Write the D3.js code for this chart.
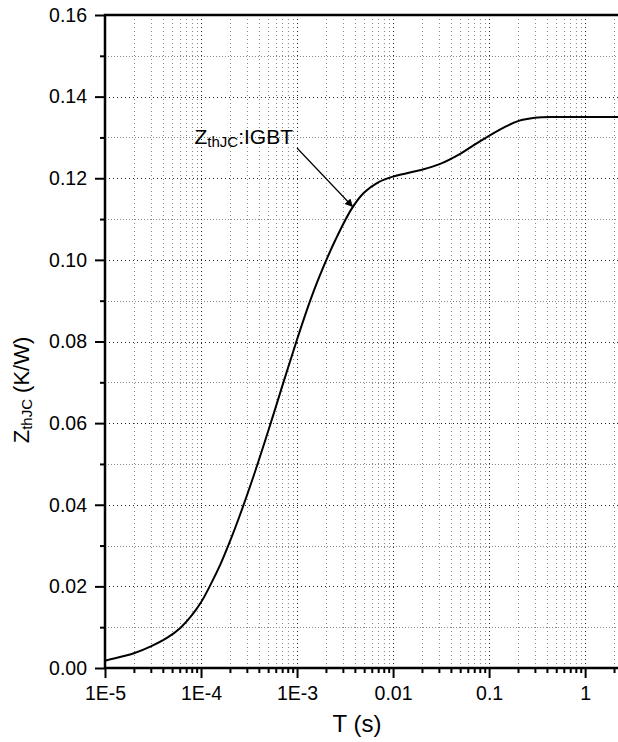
<!DOCTYPE html>
<html>
<head>
<meta charset="utf-8">
<script src="https://cdn.jsdelivr.net/npm/d3@7"></script>
<style>
	body { margin: 0; background: #fff; }
	svg { display: block; font-family: "Liberation Sans", Arial, sans-serif; }
</style>
</head>
<body>
<div id="chart"></div>
<script>
/*
 * thermal impedance chart
 */

var WIDTH = 618;
var HEIGHT = 742;
var PLOT_LEFT = 105;
var PLOT_RIGHT = 618;
var PLOT_TOP = 15;
var PLOT_BOTTOM = 668;

// data
var timeValues = [1e-5, 1.5e-5, 2e-5, 3e-5, 4.5e-5, 6e-5, 8e-5, 1e-4, 1.25e-4, 1.6e-4, 2e-4, 2.5e-4, 3.5e-4, 5e-4, 7e-4, 1e-3, 1.35e-3, 1.7e-3, 2.5e-3, 3.7e-3, 5e-3, 7e-3, 1e-2, 1.5e-2, 2e-2, 3e-2, 5e-2, 7e-2, 0.1, 0.15, 0.2, 0.3, 0.5, 1, 2.2];
var zthValues = [0.0018, 0.0028, 0.0036, 0.0053, 0.0075, 0.0097, 0.0129, 0.0161, 0.0203, 0.0255, 0.0310, 0.0370, 0.0468, 0.0580, 0.0690, 0.0805, 0.0896, 0.0958, 0.1048, 0.1125, 0.1165, 0.1190, 0.1204, 0.1214, 0.1221, 0.1234, 0.1260, 0.1282, 0.1304, 0.1327, 0.1340, 0.1348, 0.1350, 0.1350, 0.1350];

var xMajorTicks = [1e-5, 1e-4, 1e-3, 1e-2, 1e-1, 1];
var xTickLabels = ["1E-5", "1E-4", "1E-3", "0.01", "0.1", "1"];
var yMajorTicks = [0, 0.02, 0.04, 0.06, 0.08, 0.10, 0.12, 0.14, 0.16];
var yTickLabels = ["0.00", "0.02", "0.04", "0.06", "0.08", "0.10", "0.12", "0.14", "0.16"];
var yMinorTicks = [0.01, 0.03, 0.05, 0.07, 0.09, 0.11, 0.13, 0.15];

var xScale = d3.scaleLog()
	.domain([1e-5, 2.2])
	.range([PLOT_LEFT, PLOT_RIGHT]);

var yScale = d3.scaleLinear()
	.domain([0, 0.16])
	.range([PLOT_BOTTOM, PLOT_TOP]);

// minor x ticks: 2..9 in each decade
var xMinorTicks = [];
for (var i = 0; i < xMajorTicks.length; i++) {
	for (var k = 2; k <= 9; k++) {
		var t = xMajorTicks[i] * k;
		if (t <= 2.2) {
			xMinorTicks.push(t);
		}
	}
}

var svg = d3.select("#chart").append("svg")
	.attr("width", WIDTH)
	.attr("height", HEIGHT);

svg.append("defs").append("clipPath")
	.attr("id", "plotClip")
	.append("rect")
	.attr("x", PLOT_LEFT)
	.attr("y", PLOT_TOP)
	.attr("width", PLOT_RIGHT - PLOT_LEFT)
	.attr("height", PLOT_BOTTOM - PLOT_TOP);

var grid = svg.append("g").attr("class", "grid");

// minor grid
grid.selectAll("line.xminor")
	.data(xMinorTicks)
	.enter()
	.append("line")
	.attr("x1", function(d) { return Math.round(xScale(d)) + 0.5; })
	.attr("x2", function(d) { return Math.round(xScale(d)) + 0.5; })
	.attr("y1", PLOT_TOP)
	.attr("y2", PLOT_BOTTOM)
	.style("stroke", "#888")
	.style("stroke-width", 1)
	.style("stroke-dasharray", "1,3");

grid.selectAll("line.yminor")
	.data(yMinorTicks)
	.enter()
	.append("line")
	.attr("x1", PLOT_LEFT)
	.attr("x2", PLOT_RIGHT)
	.attr("y1", function(d) { return Math.round(yScale(d)) + 0.5; })
	.attr("y2", function(d) { return Math.round(yScale(d)) + 0.5; })
	.style("stroke", "#888")
	.style("stroke-width", 1)
	.style("stroke-dasharray", "1,2");

// major grid
grid.selectAll("line.xmajor")
	.data(xMajorTicks)
	.enter()
	.append("line")
	.attr("x1", function(d) { return Math.round(xScale(d)) + 0.5; })
	.attr("x2", function(d) { return Math.round(xScale(d)) + 0.5; })
	.attr("y1", PLOT_TOP)
	.attr("y2", PLOT_BOTTOM)
	.style("stroke", "#222")
	.style("stroke-width", 1)
	.style("stroke-dasharray", "1,3");

grid.selectAll("line.ymajor")
	.data(yMajorTicks)
	.enter()
	.append("line")
	.attr("x1", PLOT_LEFT)
	.attr("x2", PLOT_RIGHT)
	.attr("y1", function(d) { return Math.round(yScale(d)) + 0.5; })
	.attr("y2", function(d) { return Math.round(yScale(d)) + 0.5; })
	.style("stroke", "#222")
	.style("stroke-width", 1)
	.style("stroke-dasharray", "1,3");

// curve
var curveData = timeValues.map(function(t, i) { return { t: t, z: zthValues[i] }; });

var line = d3.line()
	.x(function(d) { return xScale(d.t); })
	.y(function(d) { return yScale(d.z); })
	.curve(d3.curveCatmullRom.alpha(0.5));

svg.append("path")
	.datum(curveData)
	.attr("clip-path", "url(#plotClip)")
	.attr("d", line)
	.style("fill", "none")
	.style("stroke", "#000")
	.style("stroke-width", 2);

// axes
var xAxisMajor = d3.axisBottom(xScale)
	.tickValues(xMajorTicks)
	.tickSize(10)
	.tickPadding(8)
	.tickFormat(function(d, i) { return xTickLabels[i]; });

var xAxisMinor = d3.axisBottom(xScale)
	.tickValues(xMinorTicks)
	.tickSize(5)
	.tickFormat("");

var yAxisMajor = d3.axisLeft(yScale)
	.tickValues(yMajorTicks)
	.tickSize(10)
	.tickPadding(8)
	.tickFormat(function(d, i) { return yTickLabels[i]; });

var yAxisMinor = d3.axisLeft(yScale)
	.tickValues(yMinorTicks)
	.tickSize(5)
	.tickFormat("");

function styleAxis(g) {
	g.select(".domain").remove();
	g.selectAll(".tick line").style("stroke", "#000").style("stroke-width", 2);
	g.selectAll(".tick text").style("font-size", "19.5px").style("fill", "#000").style("font-family", "'Liberation Sans', Arial, sans-serif");
}

svg.append("g").attr("transform", "translate(0," + PLOT_BOTTOM + ")").call(xAxisMinor).call(styleAxis);
svg.append("g").attr("transform", "translate(0," + PLOT_BOTTOM + ")").call(xAxisMajor).call(styleAxis);
svg.append("g").attr("transform", "translate(" + PLOT_LEFT + ",0)").call(yAxisMinor).call(styleAxis);
svg.append("g").attr("transform", "translate(" + PLOT_LEFT + ",0)").call(yAxisMajor).call(styleAxis);

// frame: left, bottom, top
svg.append("path")
	.attr("d", "M" + PLOT_RIGHT + "," + PLOT_TOP + "H" + PLOT_LEFT + "V" + PLOT_BOTTOM + "H" + PLOT_RIGHT)
	.style("fill", "none")
	.style("stroke", "#000")
	.style("stroke-width", 2.5);

// axis titles
svg.append("text")
	.attr("x", 357)
	.attr("y", 732)
	.attr("text-anchor", "middle")
	.style("font-size", "24px")
	.text("T (s)");

var yTitle = svg.append("text")
	.attr("transform", "translate(29,390) rotate(-90)")
	.attr("text-anchor", "middle")
	.style("font-size", "22px");
yTitle.append("tspan").text("Z");
yTitle.append("tspan").attr("dy", 3).style("font-size", "15px").text("thJC");
yTitle.append("tspan").attr("dy", -3).text(" (K/W)");

// annotation
var note = svg.append("text")
	.attr("x", 293)
	.attr("y", 144)
	.attr("text-anchor", "end")
	.style("font-size", "21px");
note.append("tspan").text("Z");
note.append("tspan").attr("dy", 3).style("font-size", "15px").text("thJC");
note.append("tspan").attr("dy", -3).text(":IGBT");

svg.append("defs").append("marker")
	.attr("id", "arrowHead")
	.attr("viewBox", "0 0 10 10")
	.attr("refX", 10)
	.attr("refY", 5)
	.attr("markerWidth", 12)
	.attr("markerHeight", 8)
	.attr("markerUnits", "userSpaceOnUse")
	.attr("orient", "auto")
	.append("path")
	.attr("d", "M0,0L10,5L0,10Z")
	.style("fill", "#000");

svg.append("line")
	.attr("x1", 297)
	.attr("y1", 148)
	.attr("x2", 353)
	.attr("y2", 207)
	.attr("marker-end", "url(#arrowHead)")
	.style("stroke", "#000")
	.style("stroke-width", 1.2);
</script>
</body>
</html>
